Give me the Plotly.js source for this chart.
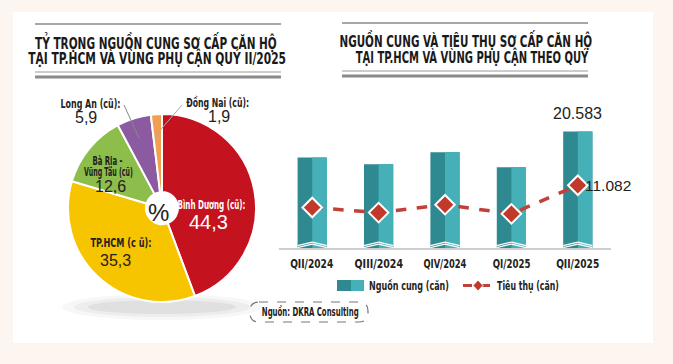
<!DOCTYPE html>
<html><head><meta charset="utf-8">
<script src="https://cdn.plot.ly/plotly-3.0.1.min.js"></script>
<style>html,body{margin:0;padding:0;background:#fcf5f0;}#c{width:673px;height:364px;}</style>
</head><body><div id="c"></div>
<script>
// ---- data ----
const pieLabels = ["Bình Dương (cũ)", "TP.HCM (cũ)", "Bà Rịa - Vũng Tàu (cũ)", "Long An (cũ)", "Đồng Nai (cũ)"];
const pieValues = [44.3, 35.3, 12.6, 5.9, 1.9];
const pieColors = ["#c5121f", "#f6c500", "#8dbd4b", "#8c5aa0", "#f0a050"];
const quarters = ["QII/2024", "QIII/2024", "QIV/2024", "QI/2025", "QII/2025"];
const supply = [16000, 14800, 16900, 14250, 20583];
const sales = [7150, 6250, 7650, 6030, 11082];

const W = 673, H = 364;
const px = x => x / W, py = y => 1 - y / H;
const COND = "DejaVu Sans Condensed";
const REG = "Liberation Sans, Arial, sans-serif";
const fmt = v => v.toString().replace(/\B(?=(\d{3})+(?!\d))/g, ".");
const fmtc = v => v.toFixed(1).replace(".", ",");

const traces = [];
traces.push({
  type: "pie", labels: pieLabels, values: pieValues, sort: false, direction: "clockwise", rotation: 0,
  hole: 0.17, textinfo: "none", hoverinfo: "label+value",
  marker: {colors: pieColors, line: {color: "#ffffff", width: 2}},
  domain: {x: [px(68), px(256)], y: [py(302), py(114)]}, showlegend: false
});
traces.push({
  type: "bar", x: quarters, y: supply, width: 0.44, offset: -0.22,
  marker: {color: "#2f8990", line: {width: 0}}, showlegend: false, xaxis: "x", yaxis: "y"
});
traces.push({
  type: "bar", x: quarters, y: supply, width: 0.22, offset: 0,
  marker: {color: "#46b0b8", line: {width: 0}}, showlegend: false, xaxis: "x", yaxis: "y"
});
traces.push({
  type: "scatter", mode: "lines+markers", x: quarters, y: sales,
  line: {color: "#c0413a", width: 3.5, dash: "dash"},
  marker: {symbol: "diamond", size: 15, color: "#c0392b", line: {color: "#ffffff", width: 2}},
  showlegend: false, xaxis: "x", yaxis: "y"
});

const shapes = [];
// white panel
shapes.push({type: "rect", xref: "paper", yref: "paper", x0: px(13), x1: px(653), y0: py(343), y1: py(12), fillcolor: "#ffffff", line: {width: 0}, layer: "below"});
// pie shadow
[[100, 13, 0.03], [88, 10, 0.04], [74, 7, 0.05]].forEach(([rx, ry, op]) => {
  shapes.push({type: "circle", xref: "paper", yref: "paper", x0: px(162 - rx), x1: px(162 + rx), y0: py(307 + ry), y1: py(307 - ry), fillcolor: "rgba(0,0,0," + op + ")", line: {width: 0}, layer: "below"});
});
// title rules
function rules(x0, x1, yt, yb1, yb2) {
  shapes.push({type: "line", xref: "paper", yref: "paper", x0: px(x0), x1: px(x1), y0: py(yt), y1: py(yt), line: {color: "#8a8a8a", width: 1.5}});
  shapes.push({type: "line", xref: "paper", yref: "paper", x0: px(x0), x1: px(x1), y0: py(yb1), y1: py(yb1), line: {color: "#9a9a9a", width: 1}});
  shapes.push({type: "line", xref: "paper", yref: "paper", x0: px(x0), x1: px(x1), y0: py(yb2), y1: py(yb2), line: {color: "#8a8a8a", width: 3}});
}
rules(35, 281, 24, 72, 77);
rules(342, 588, 23, 71, 76);
// leader lines
shapes.push({type: "line", xref: "paper", yref: "paper", x0: px(124), y0: py(105), x1: px(139), y1: py(138), line: {color: "#888", width: 1}});
shapes.push({type: "line", xref: "paper", yref: "paper", x0: px(182), y0: py(105), x1: px(156), y1: py(135), line: {color: "#aaa", width: 1}});
// bar chevrons
quarters.forEach((q, i) => {
  [[80, 700], [420, 1040]].forEach(([e, p]) => {
    shapes.push({type: "line", xref: "x", yref: "y", x0: i - 0.22, y0: e, x1: i, y1: p, line: {color: "#ffffff", width: 1.3}});
    shapes.push({type: "line", xref: "x", yref: "y", x0: i, y0: p, x1: i + 0.22, y1: e, line: {color: "#ffffff", width: 1.3}});
  });
});
// legend swatches
shapes.push({type: "rect", xref: "paper", yref: "paper", x0: px(337), x1: px(351), y0: py(291), y1: py(280), fillcolor: "#2f8990", line: {width: 0}});
shapes.push({type: "rect", xref: "paper", yref: "paper", x0: px(351), x1: px(364), y0: py(291), y1: py(280), fillcolor: "#46b0b8", line: {width: 0}});
shapes.push({type: "line", xref: "paper", yref: "paper", x0: px(463), x1: px(493), y0: py(285.5), y1: py(285.5), line: {color: "#c0413a", width: 3, dash: "dash"}});
shapes.push({type: "path", xref: "paper", yref: "paper",
  path: `M ${px(478)} ${py(280)} L ${px(483)} ${py(285.5)} L ${px(478)} ${py(291)} L ${px(473)} ${py(285.5)} Z`,
  fillcolor: "#c0392b", line: {color: "#ffffff", width: 1}});
// source box (rounded dashed)
(function () {
  const x0 = 250, x1 = 368, y0 = 302, y1 = 322, r = 9;
  const p = `M ${px(x0 + r)} ${py(y0)} L ${px(x1 - r)} ${py(y0)} Q ${px(x1)} ${py(y0)} ${px(x1)} ${py(y0 + r)} L ${px(x1)} ${py(y1 - r)} Q ${px(x1)} ${py(y1)} ${px(x1 - r)} ${py(y1)} L ${px(x0 + r)} ${py(y1)} Q ${px(x0)} ${py(y1)} ${px(x0)} ${py(y1 - r)} L ${px(x0)} ${py(y0 + r)} Q ${px(x0)} ${py(y0)} ${px(x0 + r)} ${py(y0)} Z`;
  shapes.push({type: "path", xref: "paper", yref: "paper", path: p, line: {color: "#777", width: 1.2, dash: "dash"}});
})();

const ann = [];
const fitW = {};   // annotation index -> target text width (px), condensed by horizontal scaling
function A(x, y, text, size, color, font, extra, tw) {
  const f = {family: font || COND, size: size, color: color || "#222"};
  if (tw) fitW[ann.length] = tw;
  ann.push(Object.assign({xref: "paper", yref: "paper", x: px(x), y: py(y), text: text, showarrow: false,
    xanchor: "center", yanchor: "middle", font: f}, extra || {}));
}
const B = s => "<b>" + s + "</b>";
// titles
A(156, 42, B("TỶ TRỌNG NGUỒN CUNG SƠ CẤP CĂN HỘ"), 16.5, "#1a1a1a", COND, {}, 242);
A(157, 58, B("TẠI TP.HCM VÀ VÙNG PHỤ CẬN QUÝ II/2025"), 16.5, "#1a1a1a", COND, {}, 258);
A(466, 40, B("NGUỒN CUNG VÀ TIÊU THỤ SƠ CẤP CĂN HỘ"), 16.5, "#1a1a1a", COND, {}, 253);
A(472, 57, B("TẠI TP.HCM VÀ VÙNG PHỤ CẬN THEO QUÝ"), 16.5, "#1a1a1a", COND, {}, 233);
// pie labels
A(90, 103, B("Long An (cũ):"), 12.5, "#222", COND, {}, 60);
A(86, 118, fmtc(pieValues[3]), 16, "#222", REG);
A(217, 102, B("Đồng Nai (cũ):"), 12.5, "#222", COND, {}, 63);
A(219, 117, fmtc(pieValues[4]), 16, "#222", REG);
A(107, 161, B("Bà Rịa -"), 11.5, "#222", COND, {}, 30);
A(108, 172, B("Vũng Tàu (cũ)"), 11.5, "#222", COND, {}, 49);
A(110, 187, fmtc(pieValues[2]), 16, "#222", REG);
A(211, 204, B("Bình Dương (cũ):"), 12.5, "#ffffff", COND, {}, 68);
A(208, 222, fmtc(pieValues[0]), 20, "#ffffff", REG);
A(121, 243, B("TP.HCM (c ũ):"), 12.5, "#222", COND, {}, 61);
A(115, 260, fmtc(pieValues[1]), 16, "#222", REG);
A(158, 212, "%", 24, "#222", REG);
// value labels
ann.push({xref: "x", yref: "y", x: quarters[4], y: supply[4], yanchor: "bottom", yshift: 7, showarrow: false,
  text: fmt(supply[4]), font: {family: REG, size: 16, color: "#222"}});
ann.push({xref: "x", yref: "y", x: quarters[4], y: sales[4], xanchor: "left", xshift: 5, showarrow: false,
  text: fmt(sales[4]), font: {family: REG, size: 15.5, color: "#222"}});
// category tick labels (under the axis)
quarters.forEach(q => {
  fitW[ann.length] = q.length * 5.4;
  ann.push({xref: "x", yref: "paper", x: q, y: py(263), yanchor: "middle", showarrow: false,
    text: B(q), font: {family: COND, size: 12.5, color: "#222"}});
});
// legend texts
A(367, 285, B("Nguồn cung (căn)"), 13, "#222", COND, {xanchor: "left"}, 80);
A(495, 285, B("Tiêu thụ (căn)"), 13, "#222", COND, {xanchor: "left"}, 62);
A(310, 312, B("Nguồn: DKRA Consulting"), 12, "#222", COND, {}, 97);

const layout = {
  width: W, height: H, margin: {l: 0, r: 0, t: 0, b: 0},
  paper_bgcolor: "#fcf5f0", plot_bgcolor: "rgba(0,0,0,0)",
  separators: ",.", barmode: "overlay", showlegend: false,
  xaxis: {domain: [px(279), px(611)], range: [-0.5, 4.5], type: "category", anchor: "y",
    showgrid: false, zeroline: false, showline: true, linecolor: "#cfcfcf", linewidth: 1.5, ticks: "",
    showticklabels: false, fixedrange: true},
  yaxis: {domain: [py(248), py(123.4)], range: [0, 22000], visible: false, showgrid: false, zeroline: false, fixedrange: true},
  shapes: shapes, annotations: ann
};

function condense(gd) {
  gd.querySelectorAll("g.annotation").forEach(g => {
    const i = +g.getAttribute("data-index");
    const tw = fitW[i];
    if (!tw) return;
    const t = g.querySelector("text.annotation-text");
    if (!t) return;
    const bb = t.getBBox();
    if (!bb.width) return;
    const s = tw / bb.width;
    const left = ann[i].xanchor === "left";
    const cx = left ? bb.x : bb.x + bb.width / 2;
    t.setAttribute("transform", `translate(${cx},0) scale(${s},1) translate(${-cx},0)`);
  });
}
const gd = document.getElementById("c");
Plotly.newPlot(gd, traces, layout, {displayModeBar: false, staticPlot: true}).then(() => condense(gd));
</script></body></html>
